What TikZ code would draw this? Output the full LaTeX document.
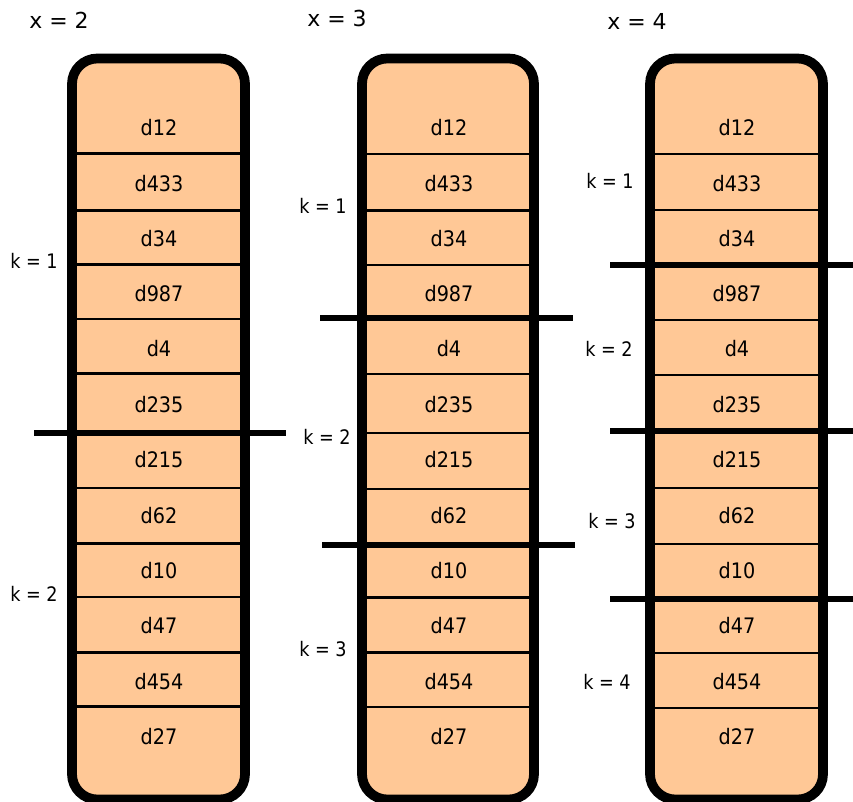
\documentclass[tikz,border=0pt]{standalone}
\usepackage{fontspec}
\setmainfont{DejaVu Sans}
\newfontfamily\cellfont{DejaVu Sans}[FakeStretch=0.9]
\newfontfamily\kfont{DejaVu Sans}[FakeStretch=0.88]
\definecolor{cellfill}{RGB}{255,200,150}
\begin{document}
\begin{tikzpicture}[x=0.75pt,y=-0.75pt,
  cell/.style={font=\cellfont\fontsize{16}{19}\selectfont, inner sep=0pt},
  klabel/.style={font=\kfont\fontsize{15}{18}\selectfont, inner sep=0pt},
  xlabel/.style={font=\fontsize{16.5}{19}\selectfont, inner sep=0pt},
  sepline/.style={line width=1.6pt},
  cutline/.style={line width=3.8pt},
  frameline/.style={line width=7.3pt, rounded corners=19pt}]
\useasboundingbox (0,0) rectangle (853,802);

% column fills
\foreach \c/\L/\R in {1/72/245, 2/362/534, 3/650/823} {
  \fill[cellfill, rounded corners=19pt] (\L,58.5) rectangle (\R,799.5);
}

% thin separators
\foreach \y in {153.5,210.5,264.5,319,373.5,488,543.5,597,652.5,706.5}
  \draw[sepline] (72,\y) -- (245,\y);
\foreach \y in {154,210.5,265,374,433,489,597.5,652.5,707}
  \draw[sepline] (362,\y) -- (534,\y);
\foreach \y in {154,210,320,375,488,544,653,708}
  \draw[sepline] (650,\y) -- (823,\y);

% cell texts
\foreach \c/\X in {1/159, 2/449, 3/737} {
  \foreach \t/\y [count=\i] in {d12/128, d433/184, d34/239, d987/294, d4/349, d235/405,
      d215/460, d62/516, d10/571, d47/626, d454/682, d27/737}
    \node[cell] (c\c r\i) at (\X,\y) {\t};
}

% frames
\foreach \c/\L/\R in {1/72/245, 2/362/534, 3/650/823} {
  \draw[frameline] (\L,58.5) rectangle (\R,799.5);
}

% partition cuts
\coordinate (a1) at (34,433);  \coordinate (b1) at (286,433);
\coordinate (a2) at (320,318); \coordinate (b2) at (573,318);
\coordinate (a3) at (322,545); \coordinate (b3) at (575,545);
\coordinate (a4) at (610,265); \coordinate (b4) at (853,265);
\coordinate (a5) at (610,431); \coordinate (b5) at (853,431);
\coordinate (a6) at (610,599); \coordinate (b6) at (853,599);
\foreach \n in {1,...,6} \draw[cutline] (a\n) -- (b\n);

% headings
\node[xlabel] (x2) at (59,20) {x = 2};
\node[xlabel] (x3) at (337,18) {x = 3};
\node[xlabel] (x4) at (637,21.5) {x = 4};

% k labels
\node[klabel] (k11) at (34,261) {k = 1};
\node[klabel] (k12) at (34,594) {k = 2};
\node[klabel] (k21) at (323,206) {k = 1};
\node[klabel] (k22) at (327,437) {k = 2};
\node[klabel] (k23) at (323,649) {k = 3};
\node[klabel] (k31) at (610,181) {k = 1};
\node[klabel] (k32) at (609,349) {k = 2};
\node[klabel] (k33) at (612,521) {k = 3};
\node[klabel] (k34) at (607,682) {k = 4};
\end{tikzpicture}
\end{document}
